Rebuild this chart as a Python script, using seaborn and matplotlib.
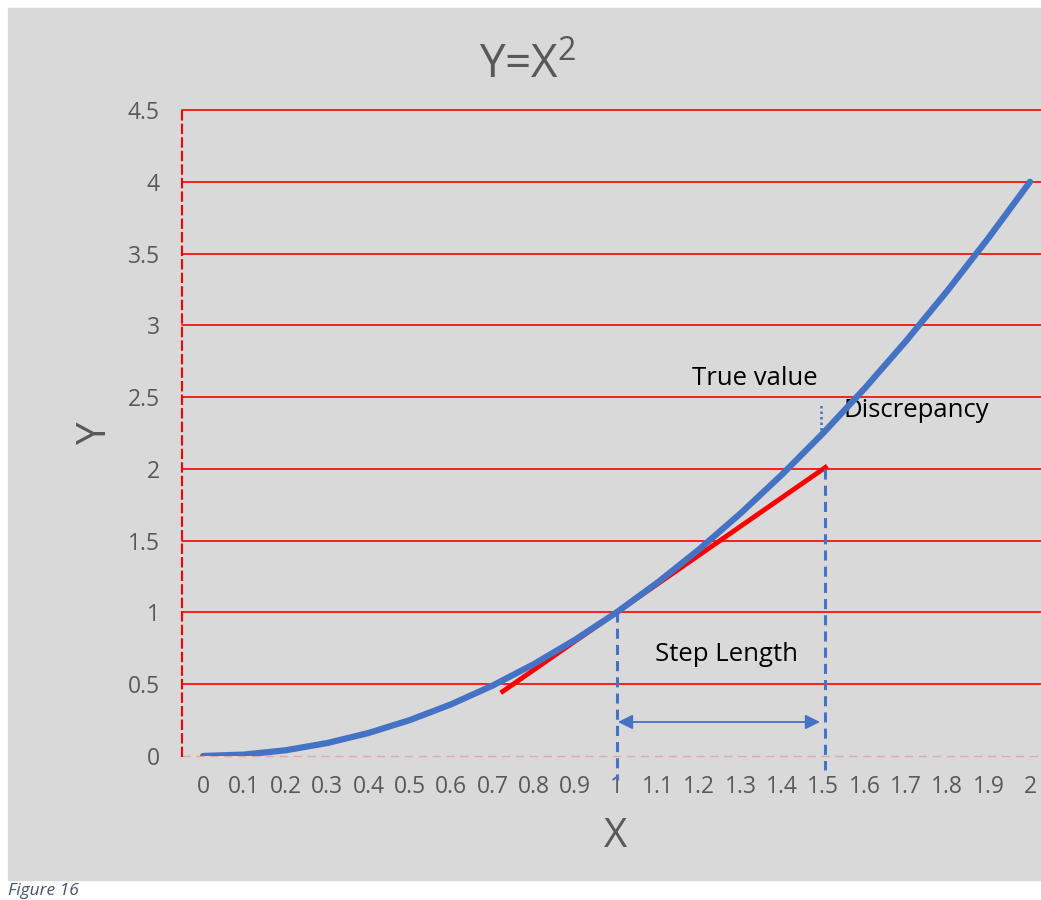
import matplotlib.pyplot as plt
from matplotlib.patches import Rectangle
import seaborn as sns

# Data
x_vals = [0, 0.1, 0.2, 0.3, 0.4, 0.5, 0.6, 0.7, 0.8, 0.9, 1.0,
          1.1, 1.2, 1.3, 1.4, 1.5, 1.6, 1.7, 1.8, 1.9, 2.0]
y_vals = [0, 0.01, 0.04, 0.09, 0.16, 0.25, 0.36, 0.49, 0.64, 0.81, 1.0,
          1.21, 1.44, 1.69, 1.96, 2.25, 2.56, 2.89, 3.24, 3.61, 4.0]
x_labels = ['0', '0.1', '0.2', '0.3', '0.4', '0.5', '0.6', '0.7', '0.8', '0.9', '1',
            '1.1', '1.2', '1.3', '1.4', '1.5', '1.6', '1.7', '1.8', '1.9', '2']
y_ticks = [0, 0.5, 1, 1.5, 2, 2.5, 3, 3.5, 4, 4.5]
y_labels = ['0', '0.5', '1', '1.5', '2', '2.5', '3', '3.5', '4', '4.5']

# tangent at x=1 and step markers
tangent_x = [0.72, 1.51]
tangent_y = [0.44, 2.02]
step_start, step_end = 1.0, 1.5
arrow_y = 0.237

# Style
sns.set_style("white")
plt.rcParams['font.family'] = ['Open Sans', 'DejaVu Sans']
plt.rcParams['mathtext.fontset'] = 'custom'
plt.rcParams['mathtext.rm'] = 'Open Sans'

gray_txt = '#595959'
blue = '#4472c4'

fig = plt.figure(figsize=(10.41, 9.0), dpi=100, facecolor='white')
fig.patches.append(Rectangle((8 / 1041, 1 - 880 / 900), 1.0, 872 / 900,
                             transform=fig.transFigure, color='#d9d9d9', zorder=-5))

ax = fig.add_axes([182 / 1041, 1 - 756 / 900, 1 - 182 / 1041, (756 - 110) / 900])
ax.set_facecolor('#d9d9d9')
ax.set_xlim(-0.0508, 2.0266)
ax.set_ylim(0, 4.5)

# grid lines
ax.set_yticks(y_ticks)
ax.set_yticklabels(y_labels)
ax.set_xticks(x_vals)
ax.set_xticklabels(x_labels)
ax.grid(axis='y', color='red', linewidth=1.2)
ax.grid(axis='x', visible=False)
gl = ax.get_ygridlines()
gl[0].set_color('#e3a8a8')
gl[0].set_linestyle((0, (6, 4)))
gl[0].set_linewidth(1.0)
for g in gl:
    g.set_clip_on(False)
ax.set_axisbelow(True)

for s in ['top', 'right', 'bottom']:
    ax.spines[s].set_visible(False)
ax.spines['left'].set_color('red')
ax.spines['left'].set_linewidth(1.5)
ax.spines['left'].set_linestyle((0, (4, 2.5)))

ax.tick_params(axis='both', length=0, labelsize=16.5, labelcolor=gray_txt)
ax.tick_params(axis='y', pad=16)
ax.tick_params(axis='x', pad=14)

# curve and tangent
sns.lineplot(x=x_vals, y=y_vals, ax=ax, color=blue, linewidth=4.5,
             solid_capstyle='round', zorder=4)
sns.lineplot(x=tangent_x, y=tangent_y, ax=ax, color='red', linewidth=3.5,
             solid_capstyle='butt', zorder=3)

# step length markers
ax.plot([step_start, step_start], [1.0, -0.167], color=blue, lw=2.2,
        linestyle=(0, (3.3, 2)), clip_on=False, zorder=5)
ax.plot([step_end + 0.004, step_end + 0.004], [2.0, -0.1], color=blue, lw=2.2,
        linestyle=(0, (3.3, 2)), clip_on=False, zorder=5)
ax.plot([1.4946, 1.4946], [2.27, 2.46], color=blue, lw=1.8,
        linestyle=(0, (1, 1.2)), zorder=5)
ax.annotate('', xy=(1.492, arrow_y), xytext=(1.0036, arrow_y),
            arrowprops=dict(arrowstyle='<|-|>', color=blue, lw=1.3,
                            mutation_scale=22, shrinkA=0, shrinkB=0))

# annotations
ax.text(1.183, 2.632, 'True value', fontsize=18.5, color='black', va='center', ha='left')
ax.text(1.548, 2.41, 'Discrepancy', fontsize=18.5, color='black', va='center', ha='left')
ax.text(1.093, 0.71, 'Step Length', fontsize=18.5, color='black', va='center', ha='left')

# titles
fig.text(528 / 1041, 1 - 78 / 900, 'Y=X$^{2}$', fontsize=33, color=gray_txt,
         ha='center', va='baseline')
fig.text(96 / 1041, 1 - 433 / 900, 'Y', fontsize=29, color=gray_txt,
         rotation=90, ha='center', va='center')
fig.text(616 / 1041, 1 - 837 / 900, 'X', fontsize=29, color=gray_txt,
         ha='center', va='center')
fig.text(8 / 1041, 1 - 899 / 900, 'Figure 16', fontsize=12.5, color='#44546a',
         style='italic', ha='left', va='bottom')

plt.savefig('out.png', dpi=100)
